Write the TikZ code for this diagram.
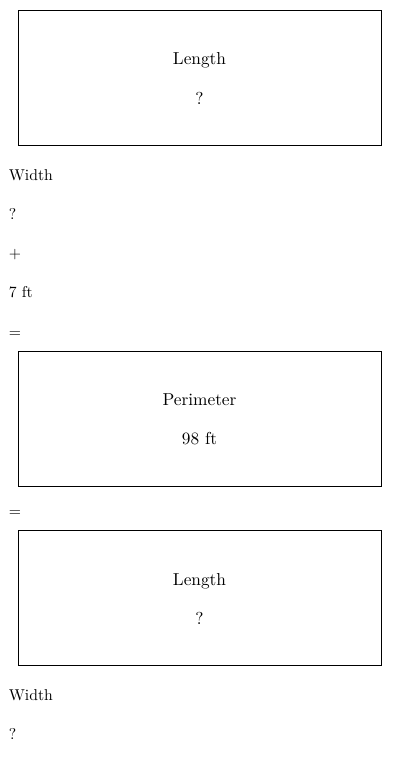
\documentclass[tikz,border=0pt]{standalone}
\begin{document}
\begin{tikzpicture}[x=1pt,y=-1pt,
  boxlbl/.style={inner sep=0pt,anchor=base,scale=1.73,transform shape,font=\fontsize{10}{12}\selectfont},
  side/.style={inner sep=0pt,anchor=base west,scale=1.57,transform shape,font=\fontsize{10}{12}\selectfont},
  frame/.style={draw=black,line width=0.8pt}]
\useasboundingbox (0,0) rectangle (400,760);
\fill[white] (0,0) rectangle (400,760);
% box 1
\draw[frame] (18,10) rectangle (381,145);
\node[boxlbl] (len1) at (199.5,65) {Length};
\node[boxlbl] (q1) at (199.5,104) {?};
\node[side] (w1) at (8.5,180) {Width};
\node[side] (q2) at (8.5,219.3) {?};
\node[side] (plus) at (8.5,258.5) {+};
\node[side] (seven) at (8.5,297.8) {7 ft};
\node[side] (eq1) at (8.5,337) {=};
% box 2
\draw[frame] (18,351) rectangle (381,486);
\node[boxlbl] (per) at (199.5,405) {Perimeter};
\node[boxlbl] (ninety) at (199.5,444) {98 ft};
\node[side] (eq2) at (8.5,516) {=};
% box 3
\draw[frame] (18,530) rectangle (381,665);
\node[boxlbl] (len2) at (199.5,585) {Length};
\node[boxlbl] (q3) at (199.5,624) {?};
\node[side] (w2) at (8.5,700) {Width};
\node[side] (q4) at (8.5,739) {?};
\end{tikzpicture}
\end{document}
